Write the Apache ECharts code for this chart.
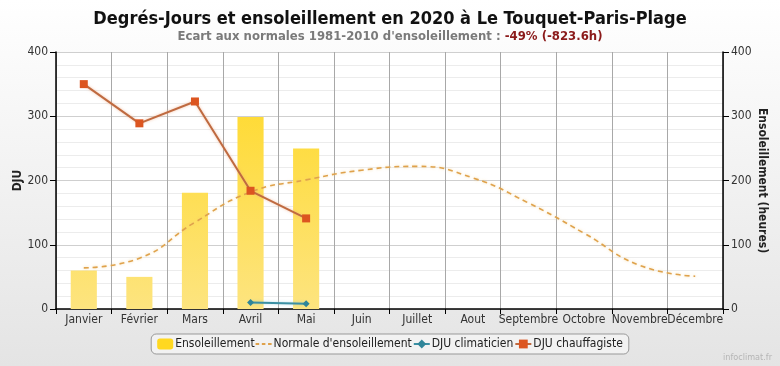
<!DOCTYPE html>
<html>
<head>
<meta charset="utf-8">
<script src="https://cdn.jsdelivr.net/npm/echarts@6/dist/echarts.min.js"></script>
<style>
html,body{margin:0;padding:0;}
#c{width:780px;height:366px;}
</style>
</head>
<body>
<div id="c"></div>
<script>
var months = ['Janvier','Février','Mars','Avril','Mai','Juin','Juillet','Aout','Septembre','Octobre','Novembre','Décembre'];
var ensoleillement = [60, 50, 181, 299, 250, null, null, null, null, null, null, null];
var normale = [64, 79, 135, 182, 201, 216, 222, 204, 165, 118, 68, 51];
var djuClim = [null, null, null, 10, 8, null, null, null, null, null, null, null];
var djuChauff = [350, 289, 323, 184, 141, null, null, null, null, null, null, null];
var yTicks = [0, 100, 200, 300, 400];

var FONT = '"DejaVu Sans Condensed", "DejaVu Sans", sans-serif';
var chart = echarts.init(document.getElementById('c'), null, {renderer:'canvas'});
chart.setOption({
  animation: false,
  backgroundColor: new echarts.graphic.LinearGradient(0,0,0,1,[{offset:0,color:'#ffffff'},{offset:1,color:'#e4e4e4'}]),
  textStyle: {fontFamily: FONT},
  title: [{
    text: 'Degrés-Jours et ensoleillement en 2020 à Le Touquet-Paris-Plage',
    left: 'center', top: 5,
    textStyle: {fontSize: 18, fontWeight: 'bold', color: '#111', fontFamily: FONT}
  },{
    text: '{a|Ecart aux normales 1981-2010 d\'ensoleillement : }{b|-49% (-823.6h)}',
    left: 'center', top: 25,
    textStyle: {fontFamily: FONT, rich: {
      a: {fontSize: 13, fontWeight: 'bold', color: '#7a7a7a', fontFamily: FONT},
      b: {fontSize: 13, fontWeight: 'bold', color: '#8b1a1a', fontFamily: FONT}
    }}
  }],
  legend: {
    bottom: 12, left: 'center',
    data: [
      {name: 'Ensoleillement'},
      {name: "Normale d'ensoleillement", icon: 'path://M0,4h4v2h-4z M7,4h4v2h-4z M14,4h4v2h-4z M0,0h0.01v0.01h-0.01z M0,10h0.01v0.01h-0.01z'},
      {name: 'DJU climaticien'},
      {name: 'DJU chauffagiste'}
    ],
    itemWidth: 16, itemHeight: 11, itemGap: 1,
    borderColor: '#999', borderWidth: 1, borderRadius: 5,
    backgroundColor: 'rgba(250,250,250,0.6)',
    padding: [4, 6],
    textStyle: {fontSize: 12, color: '#222', fontFamily: FONT, padding: [0,0,0,-3]}
  },
  grid: {left: 56, right: 57, top: 52, bottom: 57, show: true, backgroundColor: '#ffffff', borderWidth: 0, containLabel: false, outerBoundsMode: 'none'},
  xAxis: {
    type: 'category', data: months, boundaryGap: true,
    axisLine: {lineStyle: {color: '#000', width: 1.5}},
    axisTick: {show: true, length: 5, lineStyle: {color: '#000'}},
    axisLabel: {fontSize: 12, color: '#333', margin: 5, interval: 0, fontFamily: FONT, hideOverlap: false},
    splitLine: {show: true, lineStyle: {color: '#a8a8a8', width: 1}}
  },
  yAxis: [{
    type: 'value', min: 0, max: 400, interval: 100,
    name: 'DJU', nameLocation: 'middle', nameGap: 32, nameRotate: 90, nameMoveOverlap: false,
    nameTextStyle: {fontSize: 12, fontWeight: 'bold', color: '#222', fontFamily: FONT},
    axisLine: {show: true, lineStyle: {color: '#000', width: 1.5}},
    axisTick: {show: true, length: 6, lineStyle: {color: '#000'}},
    axisLabel: {fontSize: 12, color: '#333', margin: 8, fontFamily: FONT},
    splitLine: {show: true, lineStyle: {color: '#cfcfcf', width: 1}},
    minorTick: {show: false, splitNumber: 5},
    minorSplitLine: {show: true, lineStyle: {color: '#ececec', width: 1}}
  },{
    type: 'value', min: 0, max: 400, interval: 100, position: 'right',
    name: 'Ensoleillement (heures)', nameLocation: 'middle', nameGap: 33, nameRotate: -90, nameMoveOverlap: false,
    nameTextStyle: {fontSize: 12, fontWeight: 'bold', color: '#222', fontFamily: FONT},
    axisLine: {show: true, lineStyle: {color: '#000', width: 1.5}},
    axisTick: {show: true, length: 6, lineStyle: {color: '#000'}},
    axisLabel: {fontSize: 12, color: '#333', margin: 8, fontFamily: FONT},
    splitLine: {show: false}
  }],
  series: [{
    name: 'Ensoleillement', type: 'bar', yAxisIndex: 1, data: ensoleillement,
    barWidth: '47%',
    itemStyle: {color: new echarts.graphic.LinearGradient(0, 52, 0, 309, [{offset:0,color:'#ffd820'},{offset:1,color:'#fde47f'}], true)},
    z: 1
  },{
    name: "Normale d'ensoleillement", type: 'line', yAxisIndex: 1, data: normale,
    smooth: 0.5, symbol: 'none', showSymbol: false,
    lineStyle: {color: '#dfa24c', width: 1.6, type: [5, 4], shadowColor: 'rgba(240,200,120,0.6)', shadowBlur: 3},
    itemStyle: {color: '#dfa24c'},
    z: 3
  },{
    name: 'DJU climaticien', type: 'line', yAxisIndex: 0, data: djuClim,
    symbol: 'diamond', symbolSize: 7,
    lineStyle: {color: '#3b8fa3', width: 2, shadowColor: 'rgba(120,190,210,0.5)', shadowBlur: 3},
    itemStyle: {color: '#2f8599'},
    z: 4
  },{
    name: 'DJU chauffagiste', type: 'line', yAxisIndex: 0, data: djuChauff,
    symbol: 'rect', symbolSize: 8,
    lineStyle: {color: '#bf6a40', width: 2, shadowColor: 'rgba(240,170,130,0.7)', shadowBlur: 3},
    itemStyle: {color: '#dc5520'},
    z: 5
  }],
  graphic: [{
    type: 'text', right: 8, bottom: 4,
    style: {text: 'infoclimat.fr', fontSize: 9, fill: '#b5b5b5', fontFamily: FONT}
  }]
});
</script>
</body>
</html>
